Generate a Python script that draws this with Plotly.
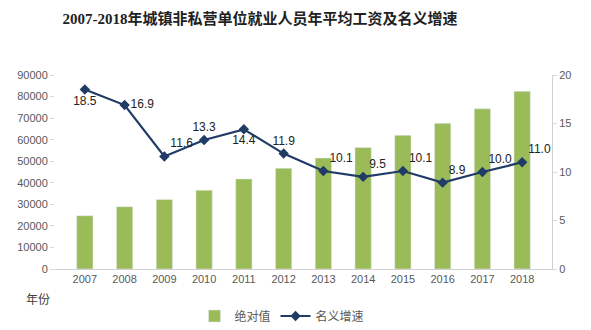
import plotly.graph_objects as go

years = ["2007", "2008", "2009", "2010", "2011", "2012", "2013", "2014", "2015", "2016", "2017", "2018"]
wages = [24721, 28898, 32244, 36539, 41799, 46769, 51483, 56360, 62029, 67569, 74318, 82413]
growth = [18.5, 16.9, 11.6, 13.3, 14.4, 11.9, 10.1, 9.5, 10.1, 8.9, 10.0, 11.0]
label_pos = ["bottom center", "middle right", "top right", "top center", "bottom center", "top center",
             "top right", "top right", "top right", "top right", "top right", "top right"]

title_text = "2007-2018年城镇非私营单位就业人员年平均工资及名义增速"
cjk = "Noto Sans CJK SC"
tickfont = dict(family="Liberation Sans, " + cjk, size=11, color="#595959")

fig = go.Figure()
fig.add_trace(go.Bar(
    x=years, y=wages, name="绝对值", marker_color="#9BBB59", width=0.41,
))
fig.add_trace(go.Scatter(
    x=years, y=growth, name="名义增速", yaxis="y2", mode="lines+markers+text",
    line=dict(color="#1F3B66", width=2.2),
    marker=dict(symbol="diamond", size=8, color="#1F3B66"),
    text=[f"{v:.1f}" for v in growth], textposition=label_pos,
    textfont=dict(family="Liberation Sans", size=12, color="#222222"),
))

fig.update_layout(
    width=591, height=330,
    margin=dict(l=55, r=39, t=75, b=61, autoexpand=False),
    paper_bgcolor="white", plot_bgcolor="white",
    title=dict(text="<b>" + title_text + "</b>", x=260 / 591, xanchor="center", xref="container",
               y=1 - 19 / 330, yanchor="middle", yref="container",
               font=dict(family="Liberation Serif, " + cjk, size=15, color="#222222")),
    xaxis=dict(type="category", showgrid=False, showline=True, linecolor="#D0D0D0", linewidth=1,
               ticks="", tickfont=tickfont),
    yaxis=dict(range=[0, 90000], dtick=10000, tickformat="d", showgrid=False, showline=False,
               zeroline=False, ticks="outside", ticklen=4, tickcolor="#D9D9D9", tickfont=tickfont),
    yaxis2=dict(range=[0, 20], dtick=5, overlaying="y", side="right", showgrid=False, showline=True,
                linecolor="#D0D0D0", zeroline=False, ticks="outside", ticklen=4, tickcolor="#D9D9D9",
                tickfont=tickfont),
    legend=dict(orientation="h", x=282 / 591, xanchor="center", y=1 - 316 / 330, yanchor="middle",
                yref="container", xref="container",
                font=dict(family=cjk, size=12, color="#595959"), traceorder="normal"),
    showlegend=True,
    annotations=[dict(text="年份", xref="paper", yref="paper", x=-0.035, y=-0.15, xanchor="center",
                      yanchor="middle", showarrow=False,
                      font=dict(family=cjk, size=12, color="#404040"))],
)

fig.write_html("out.html")
